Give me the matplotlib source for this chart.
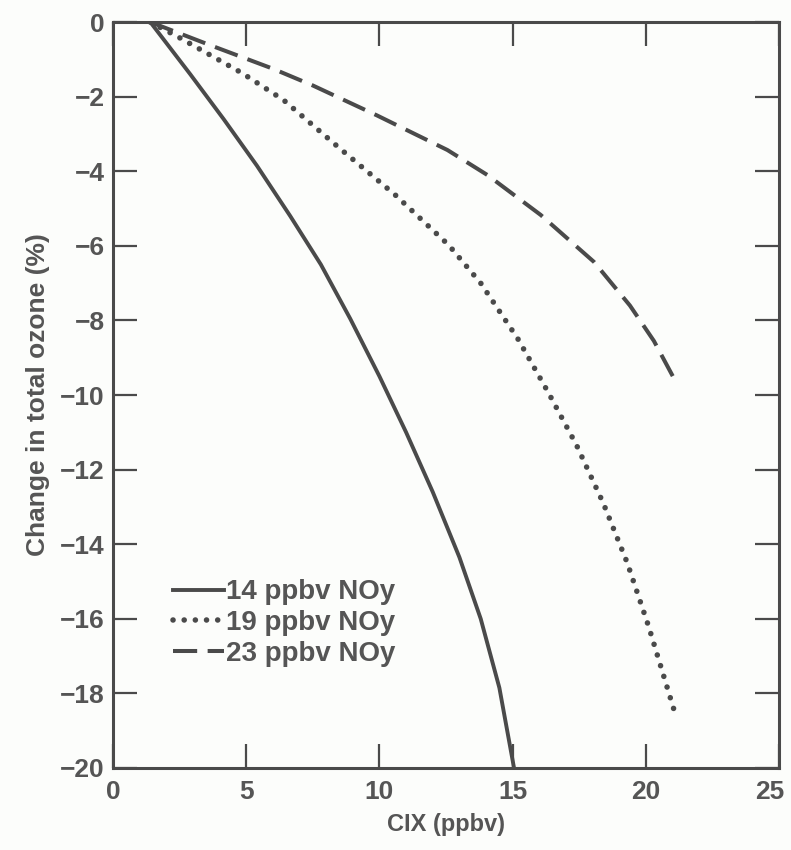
import matplotlib
matplotlib.use("Agg")
import matplotlib.pyplot as plt
from matplotlib.transforms import ScaledTranslation

# values
x_14 = [1.4, 2.9, 4.15, 5.4, 6.65, 7.8, 8.9, 10.0, 11.0, 12.0, 13.0, 13.8, 14.5, 15.05]
y_14 = [0, -1.4, -2.6, -3.85, -5.2, -6.5, -7.95, -9.5, -11.0, -12.6, -14.35, -16.0, -17.85, -20.0]

x_19 = [1.4, 2.5, 4.85, 6.4, 8.45, 10.6, 12.6, 13.8, 15.2, 16.35, 17.4, 18.4, 19.3, 20.1, 21.1]
y_19 = [0, -0.42, -1.37, -2.09, -3.35, -4.64, -5.98, -7.0, -8.5, -9.95, -11.35, -12.9, -14.5, -16.2, -18.55]

x_23 = [1.4, 3.65, 6.0, 7.5, 9.9, 12.55, 14.05, 16.05, 18.05, 19.4, 20.3, 21.05]
y_23 = [0, -0.62, -1.25, -1.7, -2.5, -3.43, -4.1, -5.17, -6.43, -7.6, -8.55, -9.55]

labels = ["14 ppbv NOy", "19 ppbv NOy", "23 ppbv NOy"]
xticks = [0, 5, 10, 15, 20, 25]
yticks = list(range(0, -21, -2))

ink = "#4a4a4a"
txt = "#555555"

plt.rcParams["font.family"] = ["Liberation Sans", "DejaVu Sans"]
plt.rcParams["font.weight"] = "bold"

fig = plt.figure(figsize=(7.91, 8.5), dpi=100, facecolor="#fcfdfb")
ax = fig.add_axes([0.1429, 0.0965, 0.8421, 0.8775])
ax.set_facecolor("#fcfdfb")

ax.plot(x_14, y_14, color=ink, lw=2.8, solid_joinstyle="round", label=labels[0])
ax.plot(x_19, y_19, color=ink, lw=4.0, linestyle=(0, (0.01, 2.0)),
        dash_capstyle="round", label=labels[1])
ax.plot(x_23, y_23, color=ink, lw=2.9, linestyle=(0, (6, 2.6)),
        dash_capstyle="butt", label=labels[2])

ax.set_xlim(0, 25)
ax.set_ylim(-20, 0)
ax.set_xticks(xticks)
ax.set_yticks(yticks)
ax.tick_params(direction="in", length=17, width=1.6, color=ink,
               top=True, right=True, labelsize=19, labelcolor=txt)
ax.tick_params(axis="x", pad=9)
ax.tick_params(axis="y", pad=6)
for s in ax.spines.values():
    s.set_color(ink)
    s.set_linewidth(2.2)

# last x label sits a little to the left so it stays inside the figure
last = ax.get_xticklabels()[-1]
last.set_transform(last.get_transform() + ScaledTranslation(-7 / 72, 0, fig.dpi_scale_trans))

ax.set_xlabel("CIX (ppbv)", fontsize=17, color=txt, fontweight="bold", labelpad=6)
ax.set_ylabel("Change in total ozone (%)", fontsize=19, color=txt,
              fontweight="bold", labelpad=7)

leg = ax.legend(loc="upper left", bbox_to_anchor=(0.09, 0.253), frameon=False,
                handlelength=1.85, handletextpad=0.05, labelspacing=0.17,
                fontsize=20, borderaxespad=0, borderpad=0)
for t in leg.get_texts():
    t.set_color(txt)

plt.savefig("out.png", dpi=100, facecolor=fig.get_facecolor())
